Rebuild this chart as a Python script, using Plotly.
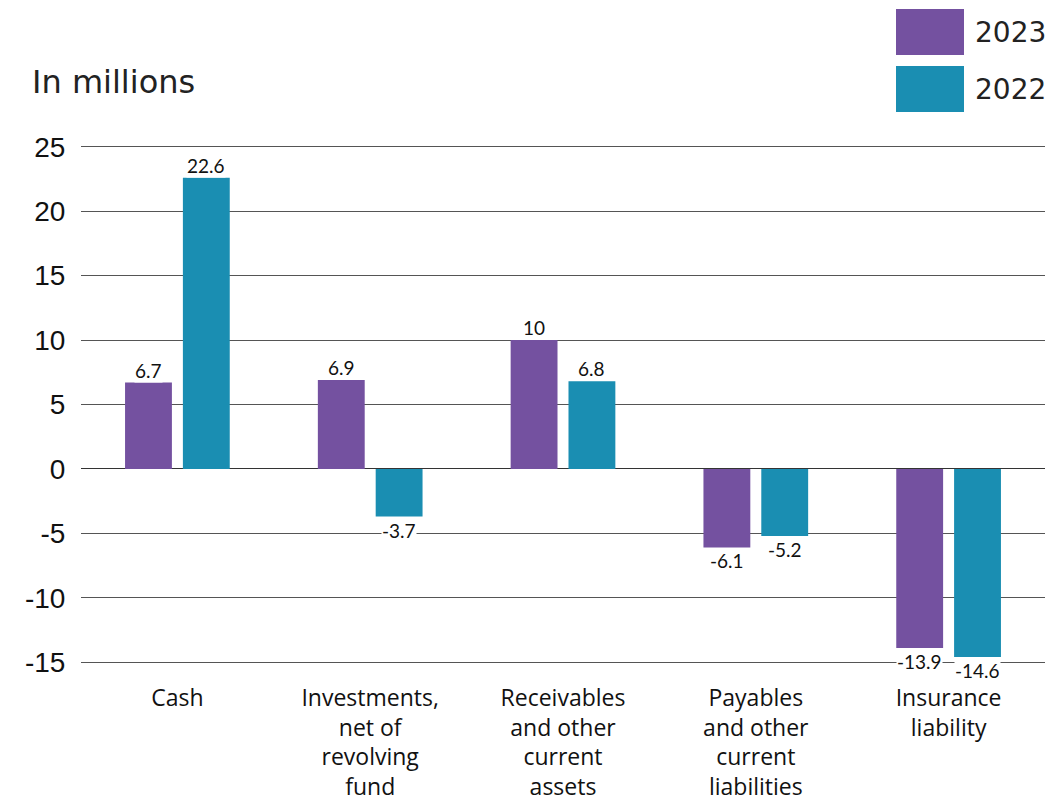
import plotly.graph_objects as go

categories = ["Cash", "Investments,<br>net of<br>revolving<br>fund", "Receivables<br>and other<br>current<br>assets",
              "Payables<br>and other<br>current<br>liabilities", "Insurance<br>liability"]
series_names = ["2023", "2022"]
values_2023 = [6.7, 6.9, 10, -6.1, -13.9]
values_2022 = [22.6, -3.7, 6.8, -5.2, -14.6]
colors = ["#7451A0", "#1A8EB2"]
y_ticks = [-15, -10, -5, 0, 5, 10, 15, 20, 25]
y_ticktext = ["-15", "-10", "-5", "0", "5", "10", "15", "20", "25"]

label_font = "Lato"
W, H = 1055, 803
pl, pr, pt, pb = 81, 10, 143, 137
pw, ph = W - pl - pr, H - pt - pb
def px(x): return (x - pl) / pw
def py(y): return (H - pb - y) / ph

fig = go.Figure()
for name, vals, col in zip(series_names, [values_2023, values_2022], colors):
    fig.add_trace(go.Bar(x=list(range(len(categories))), y=vals, name=name, marker_color=col,
                         marker_line_width=0, showlegend=False, hoverinfo="skip"))

annotations = []
for vals, off in zip([values_2023, values_2022], [-0.15, 0.15]):
    for i, v in enumerate(vals):
        annotations.append(dict(x=i + off, y=v, xref="x", yref="y", text=f"{v:g}", showarrow=False,
                                yanchor="bottom" if v >= 0 else "top", yshift=0 if v >= 0 else -1,
                                font=dict(family=label_font, size=19, color="#111"),
                                bgcolor="white", borderpad=0))

shapes = []
for j, (name, col) in enumerate(zip(series_names, colors)):
    top = 9 + j * 57
    shapes.append(dict(type="rect", xref="paper", yref="paper", x0=px(896), x1=px(964),
                       y0=py(top + 46), y1=py(top), fillcolor=col, line_width=0))
    annotations.append(dict(x=px(973), y=py(top + 23), xref="paper", yref="paper", xanchor="left",
                            yanchor="middle", text=name, showarrow=False,
                            font=dict(family="DejaVu Sans", size=28, color="#222")))
annotations.append(dict(x=px(30), y=py(82), xref="paper", yref="paper", xanchor="left", yanchor="middle",
                        text="In millions", showarrow=False,
                        font=dict(family="DejaVu Sans", size=32, color="#222")))

fig.update_layout(
    width=W, height=H,
    margin=dict(l=pl, r=pr, t=pt, b=pb),
    plot_bgcolor="white", paper_bgcolor="white",
    barmode="group", bargap=0.40, bargroupgap=0.19,
    xaxis=dict(tickmode="array", tickvals=list(range(len(categories))), ticktext=categories,
               range=[-0.5, len(categories) - 0.5], showgrid=False, zeroline=False, showline=False,
               ticks="outside", ticklen=11, tickcolor="rgba(0,0,0,0)", automargin=False,
               tickfont=dict(family="Open Sans", size=23, color="#111")),
    yaxis=dict(range=[-15.3, 25.3], tickvals=y_ticks, ticktext=y_ticktext, showgrid=True,
               gridcolor="#555", gridwidth=1, zeroline=True, zerolinecolor="#333", zerolinewidth=1,
               showline=False, ticks="outside", ticklen=9, tickcolor="rgba(0,0,0,0)", automargin=False,
               tickfont=dict(family="Liberation Sans", size=28, color="#111")),
    shapes=shapes,
    annotations=annotations,
)

fig.write_html("out.html", config={"displayModeBar": False},
               post_script="document.body.style.margin='0';")
